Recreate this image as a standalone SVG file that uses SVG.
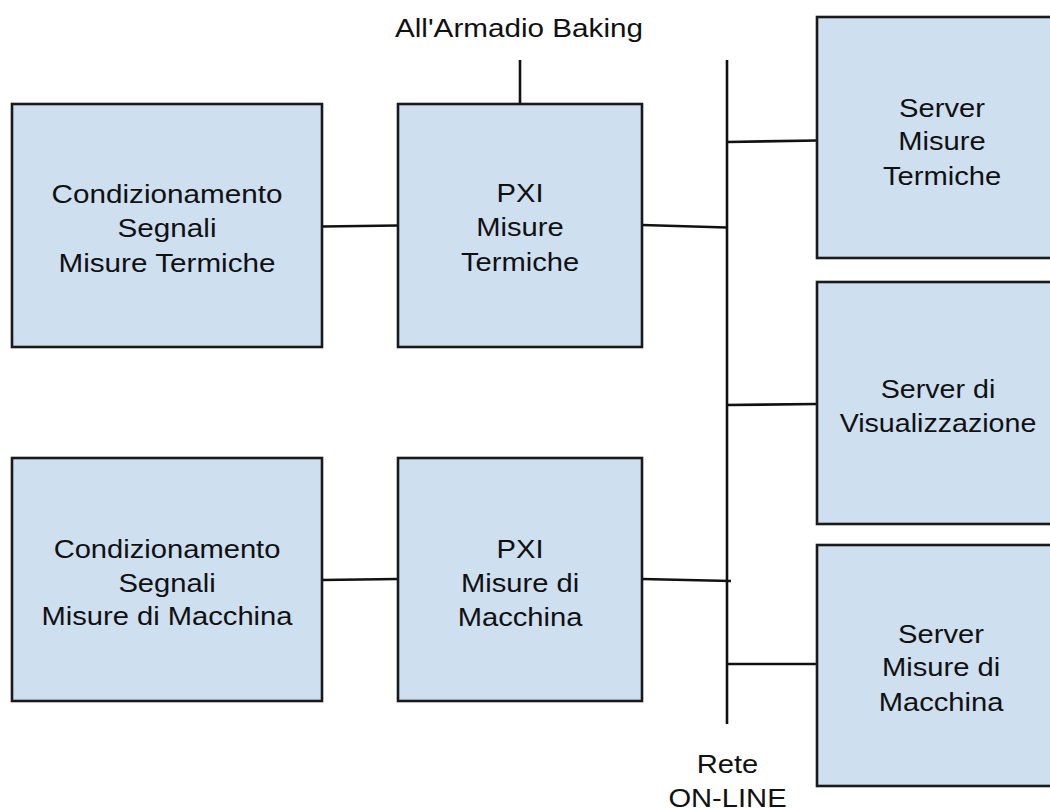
<svg xmlns="http://www.w3.org/2000/svg" width="1050" height="808" viewBox="0 0 1050 808">
<style>
.box{fill:#cedff0;stroke:#1a1a1a;stroke-width:2.6}
.ln{stroke:#111;stroke-width:2.6;fill:none;stroke-linecap:butt}
text{font-family:"Liberation Sans",Arial,sans-serif;font-size:26.5px;fill:#111;text-anchor:middle}
</style>
<rect width="1050" height="808" fill="#fff"/>
<g id="connectors">
<line class="ln" x1="727" y1="60" x2="727" y2="724"/>
<line class="ln" x1="520" y1="60" x2="520" y2="104"/>
<line class="ln" x1="322" y1="226.5" x2="398" y2="225.5"/>
<line class="ln" x1="642" y1="225" x2="727" y2="227.5"/>
<line class="ln" x1="727" y1="142" x2="817" y2="140.5"/>
<line class="ln" x1="727" y1="405" x2="817" y2="404"/>
<line class="ln" x1="322" y1="580" x2="398" y2="579"/>
<line class="ln" x1="642" y1="579" x2="731" y2="581"/>
<line class="ln" x1="727" y1="664" x2="817" y2="664"/>
</g>
<g id="label-armadio">
<text transform="translate(519 37) scale(1.12 1)">All'Armadio Baking</text>
</g>
<g id="label-rete">
<text transform="translate(727.5 773) scale(1.1 1)">Rete</text>
<text transform="translate(727.5 807) scale(1.1 1)">ON-LINE</text>
</g>
<g id="cond-termiche">
<rect class="box" x="12" y="104" width="310" height="243"/>
<text transform="translate(167 0) scale(1.12 1)"><tspan x="0" y="203">Condizionamento</tspan><tspan x="0" y="237">Segnali</tspan><tspan x="0" y="272">Misure Termiche</tspan></text>
</g>
<g id="pxi-termiche">
<rect class="box" x="398" y="104" width="244" height="243"/>
<text transform="translate(520 0) scale(1.1 1)"><tspan x="0" y="202">PXI</tspan><tspan x="0" y="236">Misure</tspan><tspan x="0" y="271">Termiche</tspan></text>
</g>
<g id="cond-macchina">
<rect class="box" x="12" y="458" width="310" height="243"/>
<text transform="translate(167 0) scale(1.1 1)"><tspan x="0" y="558">Condizionamento</tspan><tspan x="0" y="592">Segnali</tspan><tspan x="0" y="625">Misure di Macchina</tspan></text>
</g>
<g id="pxi-macchina">
<rect class="box" x="398" y="458" width="244" height="243"/>
<text transform="translate(520 0) scale(1.1 1)"><tspan x="0" y="558">PXI</tspan><tspan x="0" y="592">Misure di</tspan><tspan x="0" y="626">Macchina</tspan></text>
</g>
<g id="server-termiche">
<rect class="box" x="817" y="17" width="260" height="241"/>
<text transform="translate(942 0) scale(1.1 1)"><tspan x="0" y="117">Server</tspan><tspan x="0" y="150">Misure</tspan><tspan x="0" y="185">Termiche</tspan></text>
</g>
<g id="server-visualizzazione">
<rect class="box" x="817" y="282" width="260" height="242"/>
<text transform="translate(938 0) scale(1.08 1)"><tspan x="0" y="398">Server di</tspan><tspan x="0" y="432">Visualizzazione</tspan></text>
</g>
<g id="server-macchina">
<rect class="box" x="817" y="545" width="260" height="241"/>
<text transform="translate(941 0) scale(1.1 1)"><tspan x="0" y="643">Server</tspan><tspan x="0" y="676">Misure di</tspan><tspan x="0" y="711">Macchina</tspan></text>
</g>
</svg>
